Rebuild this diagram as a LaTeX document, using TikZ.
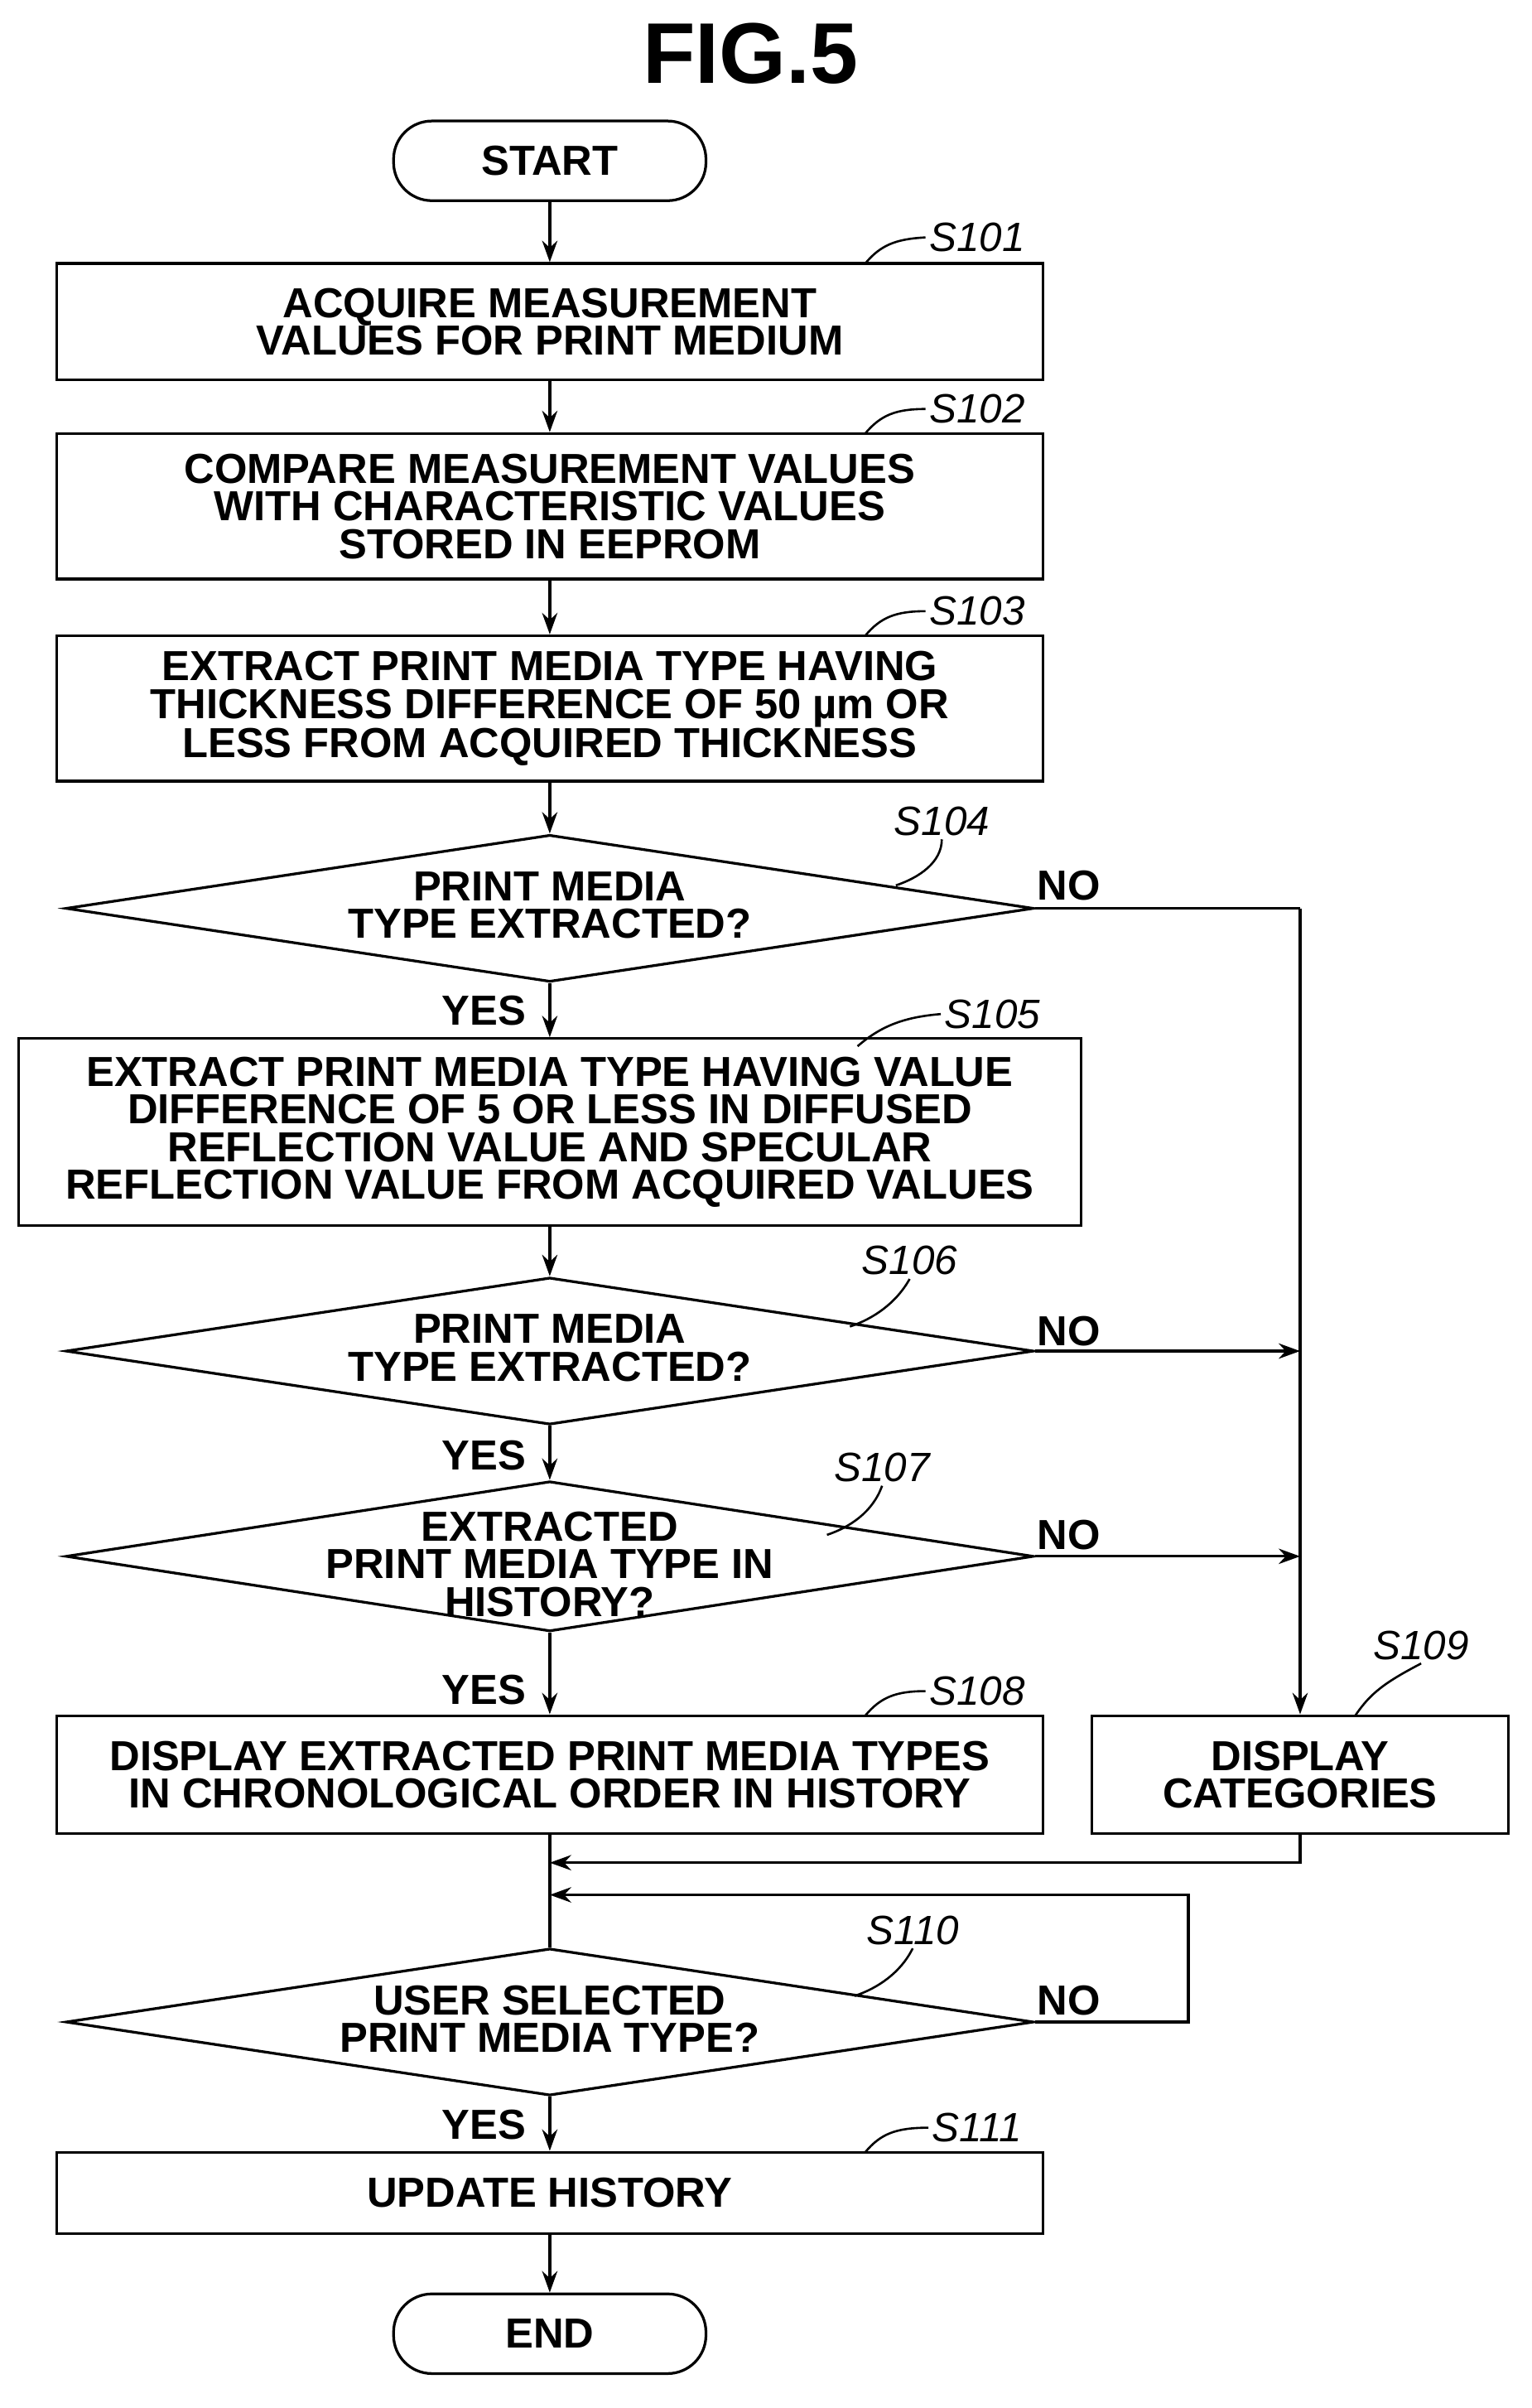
\documentclass[tikz,border=0pt]{standalone}
\usepackage{fontspec}
\setmainfont{Liberation Sans}
\usetikzlibrary{shapes.geometric,arrows.meta}
\begin{document}
\begin{tikzpicture}[x=0.05cm,y=-0.05cm,
  every node/.style={font=\bfseries\fontsize{39}{35}\selectfont},
  box/.style={draw,line width=2.5pt,inner sep=0pt},
  txt/.style={align=center,inner sep=0pt},
  dia/.style={draw,diamond,line width=2.5pt,inner sep=0pt,minimum width=31.6cm,minimum height=4.8cm},
  term/.style={draw,rounded corners=1.25cm,line width=2.5pt,minimum width=10.2cm,minimum height=2.6cm},
  lab/.style={font=\itshape\fontsize{38}{38}\selectfont},
  yn/.style={font=\bfseries\fontsize{39}{39}\selectfont},
  arr/.style={line width=2.5pt,-{Stealth[length=0.7cm,width=0.5cm]}},
  ln/.style={line width=2.5pt},
  sq/.style={line width=2pt}]
\useasboundingbox (0,0) rectangle (1000,1572);
\node[font=\bfseries\fontsize{80}{80}\selectfont] (title) at (490,35) {FIG.5};
\node[term] (start) at (359,105) {START};
\node[box,minimum width=32.2cm,minimum height=3.8cm] (s101) at (359,210) {};
\node[txt] (t101) at (359,210) {ACQUIRE MEASUREMENT\\VALUES FOR PRINT MEDIUM};
\node[box,minimum width=32.2cm,minimum height=4.75cm] (s102) at (359,330.5) {};
\node[txt] (t102) at (359,330.5) {COMPARE MEASUREMENT VALUES\\WITH CHARACTERISTIC VALUES\\STORED IN EEPROM};
\node[box,minimum width=32.2cm,minimum height=4.75cm] (s103) at (359,462.5) {};
\node[txt] (t103) at (359,462.5) {EXTRACT PRINT MEDIA TYPE HAVING\\THICKNESS DIFFERENCE OF 50 µm OR\\LESS FROM ACQUIRED THICKNESS};
\node[dia] (s104) at (359,593) {};
\node[txt] (t104) at (359,591) {PRINT MEDIA\\TYPE EXTRACTED?};
\node[box,minimum width=34.7cm,minimum height=6.1cm] (s105) at (359,739) {};
\node[txt] (t105) at (359,739) {EXTRACT PRINT MEDIA TYPE HAVING VALUE\\DIFFERENCE OF 5 OR LESS IN DIFFUSED\\REFLECTION VALUE AND SPECULAR\\REFLECTION VALUE FROM ACQUIRED VALUES};
\node[dia] (s106) at (359,882) {};
\node[txt] (t106) at (359,880) {PRINT MEDIA\\TYPE EXTRACTED?};
\node[dia,minimum height=4.9cm] (s107) at (359,1016) {};
\node[txt] (t107) at (359,1021) {EXTRACTED\\PRINT MEDIA TYPE IN\\HISTORY?};
\node[box,minimum width=32.2cm,minimum height=3.85cm] (s108) at (359,1158.5) {};
\node[txt] (t108) at (359,1158.5) {DISPLAY EXTRACTED PRINT MEDIA TYPES\\IN CHRONOLOGICAL ORDER IN HISTORY};
\node[box,minimum width=13.6cm,minimum height=3.85cm] (s109) at (849,1158.5) {};
\node[txt] (t109) at (849,1158.5) {DISPLAY\\CATEGORIES};
\node[dia] (s110) at (359,1320) {};
\node[txt] (t110) at (359,1318) {USER SELECTED\\PRINT MEDIA TYPE?};
\node[box,minimum width=32.2cm,minimum height=2.65cm] (s111) at (359,1431.5) {};
\node[txt] (t111) at (359,1431.5) {UPDATE HISTORY};
\node[term] (end) at (359,1523.5) {END};
\coordinate (c104) at (849,593);
\coordinate (c106) at (849,882);
\coordinate (c107) at (849,1016);
\coordinate (j1) at (359,1216);
\coordinate (l1) at (776,1320);
\coordinate (l2) at (776,1237);
\coordinate (j2) at (359,1237);
\draw[arr] (start) -- (s101);
\draw[arr] (s101) -- (s102);
\draw[arr] (s102) -- (s103);
\draw[arr] (s103) -- (s104);
\draw[arr] (s104) -- (s105);
\draw[arr] (s105) -- (s106);
\draw[arr] (s106) -- (s107);
\draw[arr] (s107) -- (s108);
\draw[ln] (s108) -- (s110);
\draw[arr] (s110) -- (s111);
\draw[arr] (s111) -- (end);
\draw[ln] (s104.east) -- (c104);
\draw[arr] (c104) -- (s109);
\draw[arr] (s106.east) -- (c106);
\draw[arr] (s107.east) -- (c107);
\draw[arr] (s109.south) |- (j1);
\draw[arr] (s110.east) -- (l1) -- (l2) -- (j2);
\node[yn] (n104) at (698,578) {NO};
\node[yn] (n106) at (698,869) {NO};
\node[yn] (n107) at (698,1002) {NO};
\node[yn] (n110) at (698,1306) {NO};
\node[yn] (y104) at (316,660) {YES};
\node[yn] (y106) at (316,950) {YES};
\node[yn] (y107) at (316,1103) {YES};
\node[yn] (y110) at (316,1387) {YES};
\node[lab] (l101) at (638,155) {S101};
\node[lab] (l102) at (638,267) {S102};
\node[lab] (l103) at (638,399) {S103};
\node[lab] (l104) at (615,536) {S104};
\node[lab] (l105) at (648,662) {S105};
\node[lab] (l106) at (594,823) {S106};
\node[lab] (l107) at (576,958) {S107};
\node[lab] (l108) at (638,1104) {S108};
\node[lab] (l109) at (928,1074) {S109};
\node[lab] (l110) at (596,1260) {S110};
\node[lab] (l111) at (638,1389) {S111};
\foreach \l/\y in {l101/172,l102/283,l103/415,l108/1120,l111/1405}
  \draw[sq] (565,\y) .. controls (575,\y-12) and (585,\y-16) .. (\l.west);
\draw[sq] (560,683) .. controls (575,670) and (590,664) .. (l105.west);
\foreach \l/\x/\y in {l104/585/578,l106/555/866,l107/540/1002,l110/558/1303}
  \draw[sq] (\x,\y) .. controls (\x+15,\y-5) and (\x+30,\y-15) .. (\l.south);
\draw[sq] (885,1120) .. controls (895,1105) and (905,1098) .. (l109.south);
\end{tikzpicture}
\end{document}
